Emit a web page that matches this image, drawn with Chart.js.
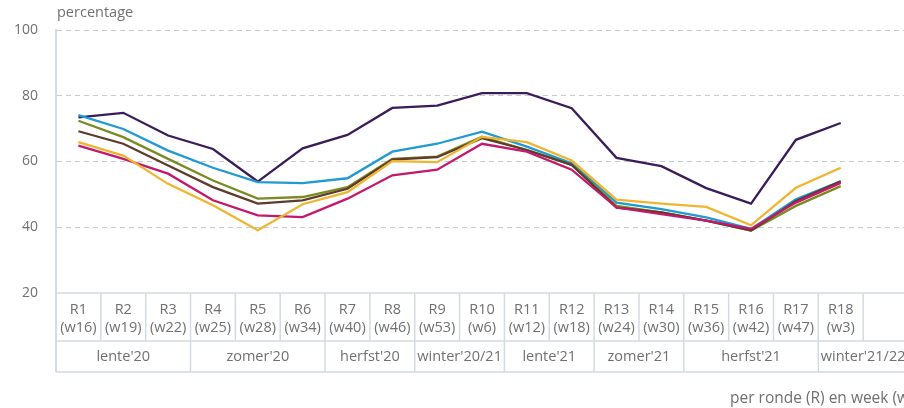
<!DOCTYPE html>
<html>
<head>
<meta charset="utf-8">
<script src="https://cdn.jsdelivr.net/npm/chart.js@4/dist/chart.umd.min.js"></script>
<style>
html,body{margin:0;padding:0;background:#fff;overflow:hidden;width:904px;height:408px;}
#wrap{width:908px;height:408px;position:relative;}
</style>
</head>
<body>
<div id="wrap"><canvas id="c"></canvas></div>
<script>
const rounds = ['R1','R2','R3','R4','R5','R6','R7','R8','R9','R10','R11','R12','R13','R14','R15','R16','R17','R18',''];
const weeks = ['(w16)','(w19)','(w22)','(w25)','(w28)','(w34)','(w40)','(w46)','(w53)','(w6)','(w12)','(w18)','(w24)','(w30)','(w36)','(w42)','(w47)','(w3)',''];
const seasons = ["lente'20","zomer'20","herfst'20","winter'20/21","lente'21","zomer'21","herfst'21","winter'21/22"];
const seasonSpans = [3,3,2,2,2,2,3,2];
const yTicks = [20,40,60,80,100];

const purple  = [73.4,74.8,67.9,63.8,53.9,64.0,68.1,76.3,77.0,80.8,80.8,76.2,61.1,58.6,51.9,47.2,66.6,71.7];
const cyan    = [74.1,69.9,63.3,58.1,53.7,53.4,54.9,63.0,65.4,69.1,64.5,59.5,47.5,45.5,43.0,39.5,48.5,54.0];
const olive   = [72.4,67.4,60.8,54.2,48.7,49.2,52.2,60.8,61.5,67.5,63.5,59.0,46.5,44.5,42.0,39.0,46.5,52.5];
const brown   = [69.2,65.4,58.8,52.2,47.2,48.2,51.7,60.6,61.3,67.1,63.5,59.0,46.0,44.5,42.0,39.0,48.0,54.0];
const yellow  = [65.9,61.8,53.2,46.7,39.1,47.0,50.7,60.1,59.8,67.5,65.9,60.3,48.4,47.2,46.2,40.6,52.0,58.1];
const magenta = [64.8,60.8,56.3,48.2,43.6,43.1,48.7,55.8,57.5,65.4,63.0,57.5,46.0,44.0,42.0,39.5,47.5,53.5];

const FONT = "'Open Sans', 'Noto Sans', sans-serif";
const TXT = '#707070';
const LINE = '#d3dae3';

const tablePlugin = {
  id: 'table',
  afterDraw(chart) {
    const ctx = chart.ctx;
    const xs = chart.scales.x, ca = chart.chartArea;
    const n = rounds.length;
    const w = (ca.right - ca.left) / n;
    const top = ca.bottom, mid = top + 48, bot = top + 79;
    ctx.save();
    ctx.strokeStyle = LINE;
    ctx.lineWidth = 1.5;
    ctx.beginPath();
    ctx.moveTo(ca.left, top); ctx.lineTo(ca.right, top);
    ctx.moveTo(ca.left, mid); ctx.lineTo(ca.right, mid);
    ctx.moveTo(ca.left, bot); ctx.lineTo(ca.right, bot);
    for (let i = 1; i < n; i++) {
      const x = ca.left + i * w;
      ctx.moveTo(x, top); ctx.lineTo(x, mid);
    }
    let acc = 0;
    for (let s = 0; s < seasonSpans.length - 1; s++) {
      acc += seasonSpans[s];
      const x = ca.left + acc * w;
      ctx.moveTo(x, mid); ctx.lineTo(x, bot);
    }
    ctx.stroke();
    ctx.lineWidth = 2;
    ctx.beginPath();
    ctx.moveTo(ca.left, top); ctx.lineTo(ca.left, bot);
    ctx.stroke();

    ctx.fillStyle = TXT;
    ctx.font = '14.5px ' + FONT;
    ctx.textAlign = 'center';
    ctx.textBaseline = 'middle';
    for (let i = 0; i < n; i++) {
      const x = xs.getPixelForValue(i);
      ctx.fillText(rounds[i], x, top + 17);
      ctx.fillText(weeks[i], x, top + 35);
    }
    acc = 0;
    for (let s = 0; s < seasons.length; s++) {
      const x = ca.left + (acc + seasonSpans[s] / 2) * w;
      ctx.fillText(seasons[s], x, mid + 16);
      acc += seasonSpans[s];
    }
    ctx.textAlign = 'left';
    ctx.font = '14.5px ' + FONT;
    ctx.fillText('percentage', 57, 13);
    ctx.font = '15.5px ' + FONT;
    ctx.fillText('per ronde (R) en week (w)', 730, 399);
    ctx.restore();
  }
};

const mk = (label, data, color) => ({
  label, data, borderColor: color, backgroundColor: color,
  borderWidth: 2.3, pointRadius: 0, tension: 0, fill: false
});

new Chart(document.getElementById('c'), {
  type: 'line',
  data: {
    labels: rounds,
    datasets: [
      mk('reeks 1', yellow, '#f0b52e'),
      mk('reeks 2', magenta, '#c4186c'),
      mk('reeks 3', brown, '#5e3b2b'),
      mk('reeks 4', olive, '#7a8b22'),
      mk('reeks 5', cyan, '#1f9ad2'),
      mk('reeks 6', purple, '#3b1c5a')
    ]
  },
  options: {
    responsive: true,
    maintainAspectRatio: false,
    animation: false,
    layout: { padding: { left: 0, right: 0, top: 30, bottom: 115 } },
    plugins: { legend: { display: false }, tooltip: { enabled: false }, title: { display: false } },
    scales: {
      x: { type: 'category', offset: true, display: false },
      y: {
        min: 20, max: 100,
        afterBuildTicks: s => { s.ticks = yTicks.map(v => ({ value: v })); },
        afterFit: s => { s.width = 56; },
        grid: {
          color: c => c.tick.value === 20 ? 'rgba(0,0,0,0)' : '#c4ccd8',
          lineWidth: 1, drawTicks: false
        },
        border: { display: true, color: LINE, width: 2, dash: [5, 4] },
        ticks: { padding: 18, color: TXT, font: { family: FONT, size: 14 } }
      }
    }
  },
  plugins: [tablePlugin]
});
</script>
</body>
</html>
